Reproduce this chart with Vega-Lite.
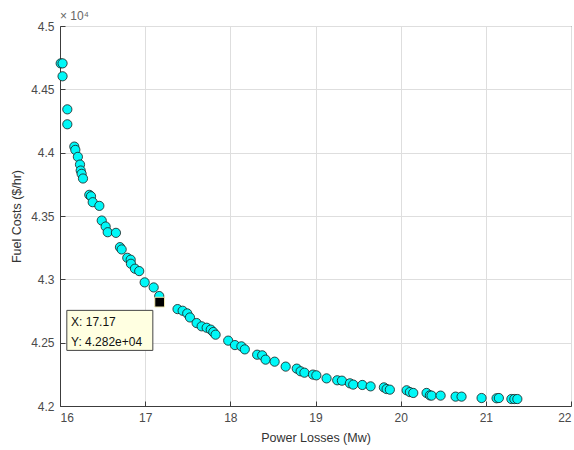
{
  "$schema": "https://vega.github.io/schema/vega-lite/v6.json",
  "width": 511,
  "height": 380,
  "autosize": "none",
  "padding": {"left": 60, "top": 26, "right": 3, "bottom": 44},
  "background": "white",
  "config": {
    "font": "Liberation Sans",
    "view": {"stroke": "#3c3c3c", "strokeWidth": 1},
    "axis": {
      "domainColor": "#3c3c3c",
      "tickColor": "#3c3c3c",
      "tickSize": -5,
      "gridColor": "#dedede",
      "labelColor": "#4a4a4a",
      "titleColor": "#333333",
      "labelFontSize": 12,
      "titleFontSize": 12.5,
      "titleFontWeight": "normal"
    }
  },
  "datasets": {
    "pts": [
      {"loss": 16.008, "cost": 44705}, {"loss": 16.03, "cost": 44705},
      {"loss": 16.03, "cost": 44603}, {"loss": 16.086, "cost": 44342},
      {"loss": 16.086, "cost": 44224}, {"loss": 16.168, "cost": 44048},
      {"loss": 16.18, "cost": 44022}, {"loss": 16.21, "cost": 43967},
      {"loss": 16.235, "cost": 43906}, {"loss": 16.243, "cost": 43859},
      {"loss": 16.254, "cost": 43833}, {"loss": 16.27, "cost": 43796},
      {"loss": 16.344, "cost": 43667}, {"loss": 16.364, "cost": 43656},
      {"loss": 16.384, "cost": 43609}, {"loss": 16.462, "cost": 43580},
      {"loss": 16.49, "cost": 43464}, {"loss": 16.536, "cost": 43417},
      {"loss": 16.56, "cost": 43372}, {"loss": 16.657, "cost": 43367},
      {"loss": 16.704, "cost": 43254}, {"loss": 16.724, "cost": 43236},
      {"loss": 16.79, "cost": 43170}, {"loss": 16.83, "cost": 43155},
      {"loss": 16.833, "cost": 43123}, {"loss": 16.88, "cost": 43084},
      {"loss": 16.93, "cost": 43065}, {"loss": 16.994, "cost": 42976},
      {"loss": 17.10, "cost": 42936}, {"loss": 17.165, "cost": 42868},
      {"loss": 17.38, "cost": 42765}, {"loss": 17.44, "cost": 42752},
      {"loss": 17.494, "cost": 42731}, {"loss": 17.526, "cost": 42699},
      {"loss": 17.604, "cost": 42655}, {"loss": 17.663, "cost": 42629},
      {"loss": 17.722, "cost": 42618}, {"loss": 17.77, "cost": 42603},
      {"loss": 17.80, "cost": 42584}, {"loss": 17.827, "cost": 42563},
      {"loss": 17.975, "cost": 42516}, {"loss": 18.054, "cost": 42481},
      {"loss": 18.13, "cost": 42471}, {"loss": 18.17, "cost": 42447},
      {"loss": 18.315, "cost": 42405}, {"loss": 18.374, "cost": 42400},
      {"loss": 18.414, "cost": 42366}, {"loss": 18.52, "cost": 42350},
      {"loss": 18.65, "cost": 42311}, {"loss": 18.78, "cost": 42295},
      {"loss": 18.825, "cost": 42274}, {"loss": 18.87, "cost": 42263},
      {"loss": 18.97, "cost": 42248}, {"loss": 19.01, "cost": 42242},
      {"loss": 19.13, "cost": 42218}, {"loss": 19.255, "cost": 42203},
      {"loss": 19.31, "cost": 42200}, {"loss": 19.404, "cost": 42179},
      {"loss": 19.443, "cost": 42169}, {"loss": 19.55, "cost": 42166},
      {"loss": 19.647, "cost": 42155}, {"loss": 19.803, "cost": 42147},
      {"loss": 19.835, "cost": 42134}, {"loss": 19.873, "cost": 42129},
      {"loss": 20.07, "cost": 42124}, {"loss": 20.108, "cost": 42110},
      {"loss": 20.148, "cost": 42103}, {"loss": 20.304, "cost": 42103},
      {"loss": 20.343, "cost": 42084}, {"loss": 20.363, "cost": 42082},
      {"loss": 20.469, "cost": 42082}, {"loss": 20.645, "cost": 42074},
      {"loss": 20.715, "cost": 42074}, {"loss": 20.95, "cost": 42063},
      {"loss": 21.126, "cost": 42061}, {"loss": 21.153, "cost": 42063},
      {"loss": 21.30, "cost": 42055}, {"loss": 21.335, "cost": 42055},
      {"loss": 21.37, "cost": 42055}
    ],
    "marker": [{"loss": 17.17, "cost": 42820}],
    "tipbox": [{"x1": 16.08, "x2": 17.09, "y1": 42755, "y2": 42439}],
    "tiptext": [
      {"loss": 16.13, "cost": 42660, "label": "X: 17.17"},
      {"loss": 16.13, "cost": 42508, "label": "Y: 4.282e+04"}
    ],
    "expo": [{"loss": 16, "cost": 45000, "label": "× 10⁴"}]
  },
  "layer": [
    {
      "data": {"name": "pts"},
      "mark": {"type": "point", "shape": "circle", "filled": true, "size": 85, "fill": "#00f8f8", "stroke": "#1a1a1a", "strokeWidth": 0.8, "opacity": 1},
      "encoding": {
        "x": {
          "field": "loss", "type": "quantitative",
          "scale": {"domain": [16, 22], "nice": false, "zero": false},
          "axis": {"values": [16, 17, 18, 19, 20, 21, 22], "format": "d", "title": "Power Losses (Mw)", "titlePadding": 8, "labelPadding": 11}
        },
        "y": {
          "field": "cost", "type": "quantitative",
          "scale": {"domain": [42000, 45000], "nice": false, "zero": false},
          "axis": {"values": [42000, 42500, 43000, 43500, 44000, 44500, 45000], "labelExpr": "format(datum.value/10000, '.2~f')", "title": "Fuel Costs ($/hr)", "titlePadding": 7, "labelPadding": 11}
        }
      }
    },
    {
      "data": {"name": "tipbox"},
      "mark": {"type": "rect", "fill": "#ffffe1", "stroke": "#444444", "strokeWidth": 1},
      "encoding": {
        "x": {"field": "x1", "type": "quantitative"},
        "x2": {"field": "x2"},
        "y": {"field": "y1", "type": "quantitative"},
        "y2": {"field": "y2"}
      }
    },
    {
      "data": {"name": "marker"},
      "mark": {"type": "square", "filled": true, "size": 95, "fill": "#000000", "stroke": "#f0e8b0", "strokeWidth": 1, "opacity": 1},
      "encoding": {
        "x": {"field": "loss", "type": "quantitative"},
        "y": {"field": "cost", "type": "quantitative"}
      }
    },
    {
      "data": {"name": "tiptext"},
      "mark": {"type": "text", "align": "left", "baseline": "middle", "fontSize": 12, "color": "#111111"},
      "encoding": {
        "x": {"field": "loss", "type": "quantitative"},
        "y": {"field": "cost", "type": "quantitative"},
        "text": {"field": "label"}
      }
    },
    {
      "data": {"name": "expo"},
      "mark": {"type": "text", "align": "left", "baseline": "middle", "fontSize": 12, "dy": -10, "color": "#666666"},
      "encoding": {
        "x": {"field": "loss", "type": "quantitative"},
        "y": {"field": "cost", "type": "quantitative"},
        "text": {"field": "label"}
      }
    }
  ]
}
